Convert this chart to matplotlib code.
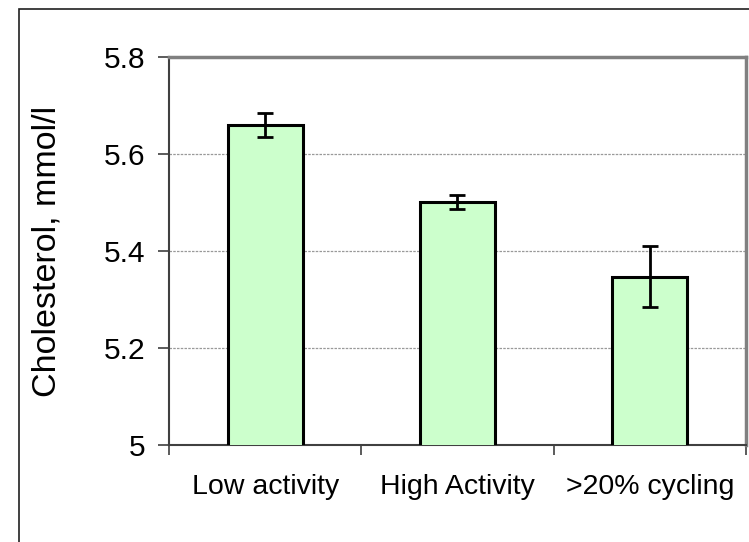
import matplotlib
matplotlib.use('Agg')
import matplotlib.pyplot as plt
from matplotlib.patches import Rectangle
import numpy as np

groups = ['Low activity', 'High Activity', '>20% cycling']
cholesterol = [5.66, 5.501, 5.347]
sem = [0.025, 0.015, 0.063]
y_ticks = [5.0, 5.2, 5.4, 5.6, 5.8]
y_tick_labels = ['5', '5.2', '5.4', '5.6', '5.8']

plt.rcParams['font.family'] = ['Liberation Sans', 'DejaVu Sans']

fig = plt.figure(figsize=(7.49, 5.42), dpi=100)
ax = fig.add_axes([0.2256, 0.179, 0.7704, 0.7158])

# chart frame, running off the right/bottom edge
fig.patches.append(Rectangle((18.5 / 749, -0.1), 1.2, 1 + 0.1 - 8.5 / 542,
                             transform=fig.transFigure, fill=False,
                             edgecolor='#202020', linewidth=1.2))

x = np.arange(len(groups)) + 0.5
ax.bar(x, cholesterol, width=0.39, color='#CCFFCC', edgecolor='black',
       linewidth=2.2, zorder=3)
ax.errorbar(x, cholesterol, yerr=sem, fmt='none', ecolor='black',
            elinewidth=2.0, capsize=5.5, capthick=2.0, zorder=4)

ax.set_xlim(0, len(groups))
ax.set_ylim(5.0, 5.8)
ax.set_yticks(y_ticks)
ax.set_yticklabels(y_tick_labels, fontsize=21.5)
ax.set_xticks(np.arange(len(groups) + 1))
ax.set_xticklabels([])
ax.set_xticks(x, minor=True)
ax.set_xticklabels(groups, minor=True, fontsize=20.5)
ax.tick_params(axis='x', which='minor', length=0, pad=21)
ax.tick_params(axis='x', which='major', length=7, width=1.2,
               color='#404040', direction='out')
ax.tick_params(axis='y', length=8, width=1.2, color='#404040',
               direction='out', pad=9)

ax.set_ylabel('Cholesterol, mmol/l', fontsize=24.5, labelpad=30)

for v in y_ticks[1:-1]:
    ax.axhline(v, color='#999999', linestyle=(0, (2, 1)), linewidth=0.9,
               zorder=1)

ax.spines['left'].set_color('#404040')
ax.spines['bottom'].set_color('#404040')
ax.spines['left'].set_linewidth(1.5)
ax.spines['bottom'].set_linewidth(1.5)
ax.spines['top'].set_color('#808080')
ax.spines['right'].set_color('#808080')
ax.spines['top'].set_linewidth(2.5)
ax.spines['right'].set_linewidth(2.5)

fig.savefig('out.png', dpi=100)
